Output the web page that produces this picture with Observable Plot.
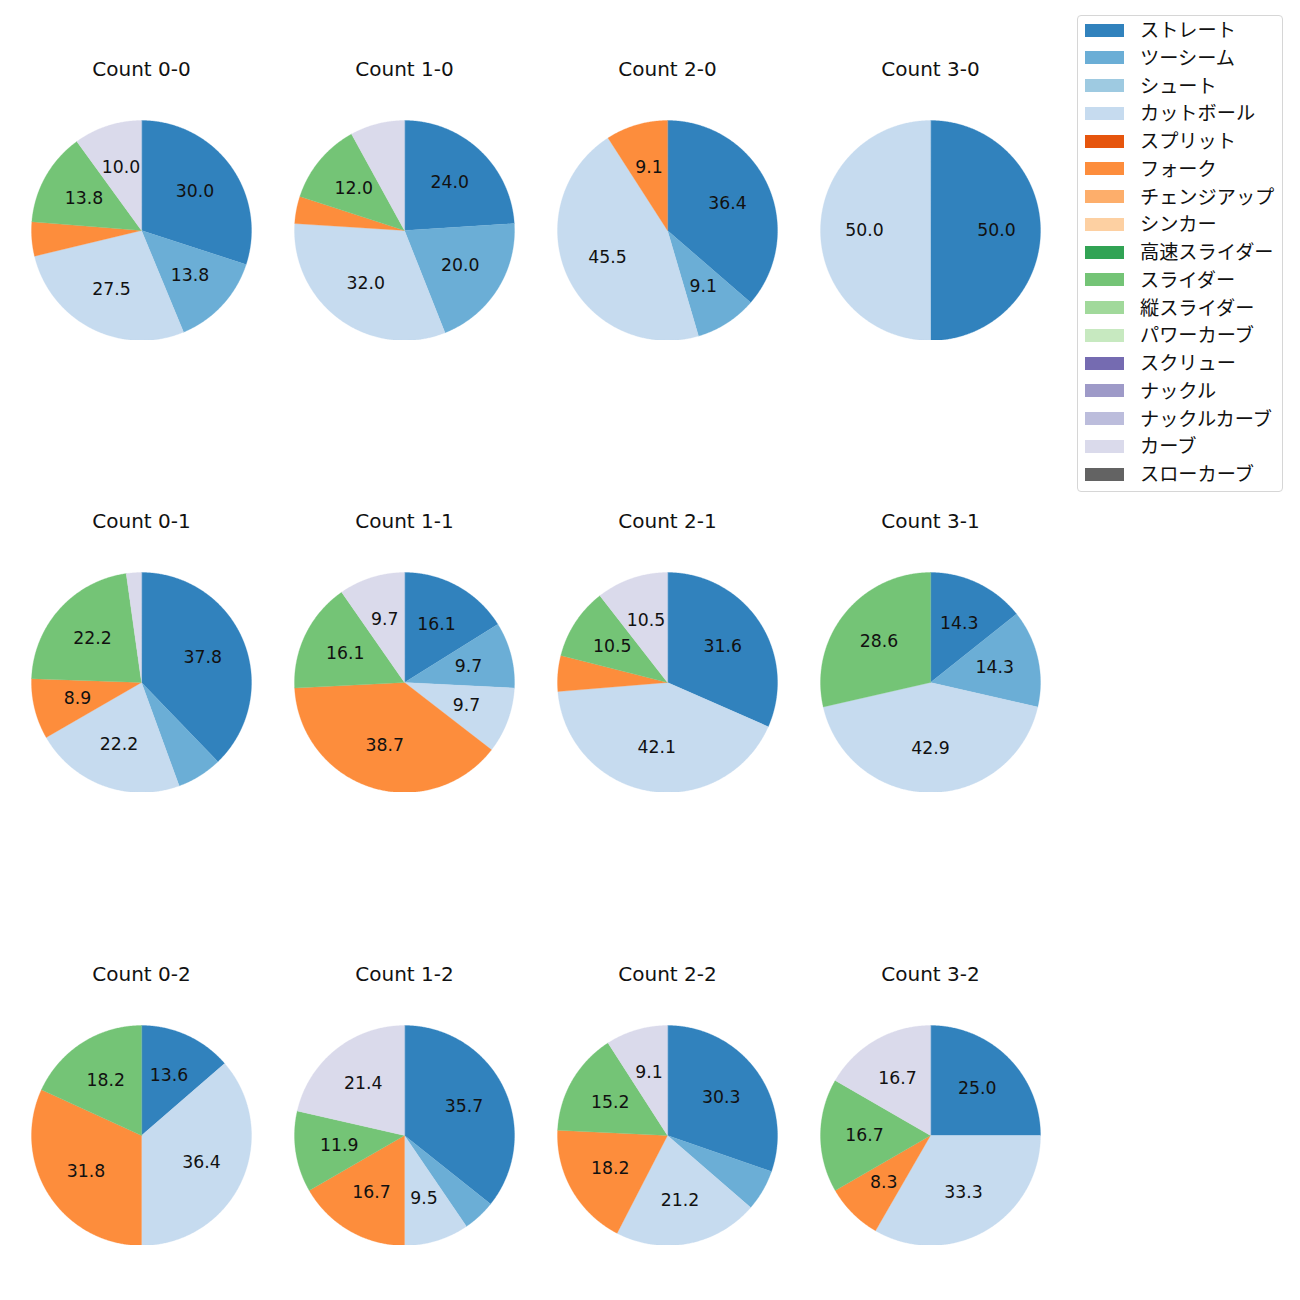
<!DOCTYPE html>
<html><head><meta charset="utf-8">
<script src="https://cdn.jsdelivr.net/npm/d3@7"></script>
<script src="https://cdn.jsdelivr.net/npm/@observablehq/plot@0.6"></script>
<style>
body{margin:0;background:#fff;font-family:"Noto Sans CJK JP","Noto Sans",sans-serif;}
#root{position:relative;width:1300px;height:1300px;background:#fff;overflow:hidden;}
.panel{position:absolute;}
.legend{position:absolute;left:1077px;top:15px;width:206px;height:477px;border:1px solid #d6d6d6;border-radius:4px;box-sizing:border-box;background:#fff;}
.sw{position:absolute;left:7px;width:39px;height:13px;}
.lt{position:absolute;left:62px;font-size:19.2px;line-height:22px;color:#111;white-space:nowrap;}
</style></head><body><div id="root"></div>
<script>
const pitchTypes = ["ストレート","ツーシーム","シュート","カットボール","スプリット","フォーク","チェンジアップ","シンカー","高速スライダー","スライダー","縦スライダー","パワーカーブ","スクリュー","ナックル","ナックルカーブ","カーブ","スローカーブ"];
const pitchColors = ["#3182bd","#6baed6","#9ecae1","#c6dbef","#e6550d","#fd8d3c","#fdae6b","#fdd0a2","#31a354","#74c476","#a1d99b","#c7e9c0","#756bb1","#9e9ac8","#bcbddc","#dadaeb","#636363"];
const countLabels = ["0-0","1-0","2-0","3-0","0-1","1-1","2-1","3-1","0-2","1-2","2-2","3-2"];
// pitch counts per ball-strike count, in pitchTypes order
const v00 = [24,11,0,22,0,4,0,0,0,11,0,0,0,0,0,8,0];
const v10 = [6,5,0,8,0,1,0,0,0,3,0,0,0,0,0,2,0];
const v20 = [4,1,0,5,0,1,0,0,0,0,0,0,0,0,0,0,0];
const v30 = [1,0,0,1,0,0,0,0,0,0,0,0,0,0,0,0,0];
const v01 = [17,3,0,10,0,4,0,0,0,10,0,0,0,0,0,1,0];
const v11 = [5,3,0,3,0,12,0,0,0,5,0,0,0,0,0,3,0];
const v21 = [6,0,0,8,0,1,0,0,0,2,0,0,0,0,0,2,0];
const v31 = [1,1,0,3,0,0,0,0,0,2,0,0,0,0,0,0,0];
const v02 = [3,0,0,8,0,7,0,0,0,4,0,0,0,0,0,0,0];
const v12 = [15,2,0,4,0,7,0,0,0,5,0,0,0,0,0,9,0];
const v22 = [10,2,0,7,0,6,0,0,0,5,0,0,0,0,0,3,0];
const v32 = [3,0,0,4,0,1,0,0,0,2,0,0,0,0,0,2,0];
const panelValues = [v00,v10,v20,v30,v01,v11,v21,v31,v02,v12,v22,v32];

const root = document.getElementById("root");
const W = 250, H = 300, R = 110, CX = 125, CY = 190;
const colX = [141,404,667,930], rowY = [230,682,1135];
const latin = '"DejaVu Sans","Noto Sans CJK JP",sans-serif';

function build(vals){
  const total = d3.sum(vals);
  let acc = 0;
  const pts = [], labels = [];
  vals.forEach((v,i)=>{
    if(!v) return;
    const a0 = acc/total*2*Math.PI, a1 = (acc+v)/total*2*Math.PI;
    acc += v;
    const n = Math.max(2, Math.ceil((a1-a0)/(Math.PI/360)));
    pts.push({type: pitchTypes[i], x:0, y:0});
    for(let k=0;k<=n;k++){
      const a = a0+(a1-a0)*k/n;
      pts.push({type: pitchTypes[i], x: Math.sin(a), y: Math.cos(a)});
    }
    const pct = 100*v/total, am = (a0+a1)/2;
    if(pct > 8.0000001) labels.push({x:0.6*Math.sin(am), y:0.6*Math.cos(am), text:(pct+1e-9).toFixed(1)});
  });
  return {pts, labels};
}

panelValues.forEach((vals, idx)=>{
  const {pts, labels} = build(vals);
  const chart = Plot.plot({
    width: W, height: H, margin: 0,
    x: {domain: [-CX/R, (W-CX)/R], axis: null},
    y: {domain: [-(H-CY)/R, CY/R], axis: null},
    color: {domain: pitchTypes, range: pitchColors},
    style: {fontFamily: latin, background: "transparent"},
    marks: [
      Plot.line(pts, {x:"x", y:"y", z:"type", fill:"type", stroke:"type", strokeWidth:0.3, curve:"linear-closed"}),
      Plot.text(labels, {x:"x", y:"y", text:"text", fontSize:17.3, fill:"#111"}),
      Plot.text(["Count " + countLabels[idx]], {frameAnchor:"top", lineAnchor:"middle", dy:29, fontSize:20, fill:"#111"})
    ]
  });
  chart.classList.add("panel");
  chart.style.left = (colX[idx%4]-CX) + "px";
  chart.style.top = (rowY[Math.floor(idx/4)]-CY) + "px";
  root.appendChild(chart);
});

const lg = document.createElement("div");
lg.className = "legend";
pitchTypes.forEach((t,i)=>{
  const y = 14 + i*27.75;
  const s = document.createElement("div");
  s.className = "sw"; s.style.top = (y-6.5)+"px"; s.style.background = pitchColors[i];
  const l = document.createElement("div");
  l.className = "lt"; l.style.top = (y-12)+"px"; l.textContent = t;
  lg.appendChild(s); lg.appendChild(l);
});
root.appendChild(lg);
</script>
</body></html>
